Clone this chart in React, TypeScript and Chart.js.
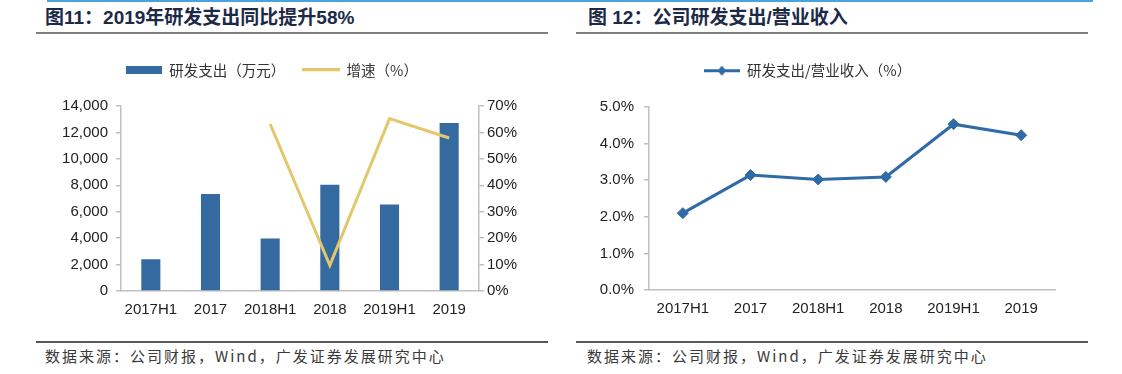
import React, { useEffect, useRef } from 'react';
import { Chart, registerables } from 'chart.js';

Chart.register(...registerables);

const categories = ['2017H1', '2017', '2018H1', '2018', '2019H1', '2019'];
const rdExpense = [2400, 7350, 3970, 8040, 6550, 12720];
const rdGrowth: (number | null)[] = [null, null, 63.2, 9.7, 65.2, 57.9];
const rdRatio = [2.1, 3.14, 3.02, 3.09, 4.53, 4.23];

const leftTitle = '图11：2019年研发支出同比提升58%';
const rightTitle = '图 12：公司研发支出/营业收入';
const sourceText = '数据来源：公司财报，Wind，广发证券发展研究中心';
const legendExpense = '研发支出（万元）';
const legendGrowth = '增速（%）';
const legendRatio = '研发支出/营业收入（%）';

const BAR_BLUE = '#346aa0';
const GOLD = '#e4c76c';
const LINE_BLUE = '#2f6ba6';
const AXIS = '#bfbfbf';
const TICK_FONT = { family: "'Liberation Sans', Arial, sans-serif", size: 15 };
const LEGEND_FONT = { family: "'Noto Sans CJK SC', sans-serif", size: 14.5 };

function makeSwatch(w: number, h: number, draw: (ctx: CanvasRenderingContext2D) => void) {
  const c = document.createElement('canvas');
  c.width = w;
  c.height = h;
  const ctx = c.getContext('2d')!;
  draw(ctx);
  return c;
}

const legendHeight = (h: number) => ({
  id: 'legendHeight',
  beforeInit(chart: any) {
    const orig = chart.legend.fit;
    chart.legend.fit = function () {
      orig.call(this);
      this.height = h;
    };
  },
});

function LeftChart() {
  const ref = useRef<HTMLCanvasElement>(null);
  useEffect(() => {
    const barSw = makeSwatch(36, 8, (ctx) => {
      ctx.fillStyle = BAR_BLUE;
      ctx.fillRect(0, 0, 36, 8);
    });
    const lineSw = makeSwatch(38, 4, (ctx) => {
      ctx.fillStyle = GOLD;
      ctx.fillRect(0, 0, 38, 3);
    });
    const chart = new Chart(ref.current!, {
      type: 'bar',
      data: {
        labels: categories,
        datasets: [
          {
            type: 'line',
            label: legendGrowth,
            data: rdGrowth,
            yAxisID: 'y1',
            borderColor: GOLD,
            backgroundColor: GOLD,
            borderWidth: 3,
            pointRadius: 0,
            order: 0,
          } as any,
          {
            type: 'bar',
            label: legendExpense,
            data: rdExpense,
            yAxisID: 'y',
            backgroundColor: BAR_BLUE,
            categoryPercentage: 0.8,
            barPercentage: 0.4,
            order: 1,
          },
        ],
      },
      options: {
        animation: false,
        responsive: false,
        maintainAspectRatio: false,
        layout: { padding: 0 },
        plugins: {
          tooltip: { enabled: false },
          legend: {
            position: 'top',
            labels: {
              font: LEGEND_FONT,
              color: '#333',
              usePointStyle: true,
              pointStyleWidth: 36,
              boxHeight: 14,
              padding: 18,
              generateLabels: () => [
                { text: legendExpense, pointStyle: barSw, fillStyle: BAR_BLUE, strokeStyle: 'transparent', lineWidth: 0, hidden: false, datasetIndex: 1, fontColor: '#333' } as any,
                { text: legendGrowth, pointStyle: lineSw, fillStyle: GOLD, strokeStyle: 'transparent', lineWidth: 0, hidden: false, datasetIndex: 0, fontColor: '#333' } as any,
              ],
            },
          },
        },
        scales: {
          x: {
            grid: { display: false, drawTicks: false },
            border: { display: true, color: AXIS, width: 1.5 },
            ticks: { font: TICK_FONT, color: '#222', padding: 10 },
            afterFit(s: any) { s.height = 49; },
          },
          y: {
            position: 'left',
            min: 0,
            max: 14000,
            ticks: {
              stepSize: 2000,
              font: TICK_FONT,
              color: '#222',
              padding: 8,
              callback: (v: any) => Number(v).toLocaleString('en-US'),
            },
            grid: { display: true, drawOnChartArea: false, drawTicks: true, tickLength: 5, color: AXIS, lineWidth: 1.5 },
            border: { display: true, color: AXIS, width: 1.5 },
            afterFit(s: any) { s.width = 101; },
          },
          y1: {
            position: 'right',
            min: 0,
            max: 70,
            ticks: {
              stepSize: 10,
              font: TICK_FONT,
              color: '#222',
              padding: 3,
              callback: (v: any) => `${v}%`,
            },
            grid: { display: true, drawOnChartArea: false, drawTicks: true, tickLength: 5, color: AXIS, lineWidth: 1.5 },
            border: { display: true, color: AXIS, width: 1.5 },
            afterFit(s: any) { s.width = 45; },
          },
        },
      } as any,
      plugins: [legendHeight(61)],
    });
    return () => chart.destroy();
  }, []);
  return <canvas ref={ref} width={504} height={295} style={{ position: 'absolute', left: 20, top: 45, width: 504, height: 295 }} />;
}

function RightChart() {
  const ref = useRef<HTMLCanvasElement>(null);
  useEffect(() => {
    const sw = makeSwatch(36, 12, (ctx) => {
      ctx.fillStyle = LINE_BLUE;
      ctx.fillRect(0, 5, 36, 3);
      ctx.beginPath();
      ctx.moveTo(18, 1.5);
      ctx.lineTo(22.5, 6.5);
      ctx.lineTo(18, 11.5);
      ctx.lineTo(13.5, 6.5);
      ctx.closePath();
      ctx.fill();
    });
    const chart = new Chart(ref.current!, {
      type: 'line',
      data: {
        labels: categories,
        datasets: [
          {
            label: legendRatio,
            data: rdRatio,
            borderColor: LINE_BLUE,
            backgroundColor: LINE_BLUE,
            borderWidth: 3,
            pointStyle: 'rectRot',
            pointRadius: 5.5,
            pointBackgroundColor: LINE_BLUE,
            pointBorderColor: LINE_BLUE,
            pointBorderWidth: 1,
          },
        ],
      },
      options: {
        animation: false,
        responsive: false,
        maintainAspectRatio: false,
        layout: { padding: { right: 10 } },
        plugins: {
          tooltip: { enabled: false },
          legend: {
            position: 'top',
            labels: {
              font: LEGEND_FONT,
              color: '#333',
              usePointStyle: true,
              pointStyleWidth: 36,
              boxHeight: 14,
              padding: 18,
              generateLabels: () => [
                { text: legendRatio, pointStyle: sw, fillStyle: LINE_BLUE, strokeStyle: 'transparent', lineWidth: 0, hidden: false, datasetIndex: 0, fontColor: '#333' } as any,
              ],
            },
          },
        },
        scales: {
          x: {
            offset: true,
            grid: { display: false, drawTicks: false },
            border: { display: true, color: AXIS, width: 1.5 },
            ticks: { font: TICK_FONT, color: '#222', padding: 10 },
            afterFit(s: any) { s.height = 50; },
          },
          y: {
            min: 0,
            max: 5,
            ticks: {
              stepSize: 1,
              font: TICK_FONT,
              color: '#222',
              padding: 10,
              callback: (v: any) => `${Number(v).toFixed(1)}%`,
            },
            grid: { display: true, drawOnChartArea: false, drawTicks: true, tickLength: 5, color: AXIS, lineWidth: 1.5 },
            border: { display: true, color: AXIS, width: 1.5 },
            afterFit(s: any) { s.width = 89; },
          },
        },
      } as any,
      plugins: [legendHeight(62)],
    });
    return () => chart.destroy();
  }, []);
  return <canvas ref={ref} width={505} height={295} style={{ position: 'absolute', left: 560, top: 45, width: 505, height: 295 }} />;
}

const titleStyle: React.CSSProperties = {
  position: 'absolute',
  top: 7,
  fontFamily: "'Liberation Sans', 'Noto Sans CJK SC', sans-serif",
  fontWeight: 'bold',
  fontSize: 19,
  lineHeight: '22px',
  color: '#1c2a48',
  whiteSpace: 'nowrap',
};

const footStyle: React.CSSProperties = {
  position: 'absolute',
  top: 347,
  fontFamily: "'Noto Sans CJK SC', 'Liberation Sans', sans-serif",
  fontSize: 15,
  lineHeight: '18px',
  letterSpacing: '2px',
  color: '#3a3a3a',
  whiteSpace: 'nowrap',
};

function rule(left: number, top: number, width: number, height: number, color: string) {
  return <div style={{ position: 'absolute', left, top, width, height, background: color }} />;
}

export default function App() {
  return (
    <div style={{ position: 'fixed', left: 0, top: 0, width: 1122, height: 374, background: '#fff', overflow: 'hidden' }}>
      {rule(47, 0, 1046, 2, '#4aa3df')}
      <div style={{ ...titleStyle, left: 45 }}>{leftTitle}</div>
      <div style={{ ...titleStyle, left: 588 }}>{rightTitle}</div>
      {rule(36, 32, 512, 2, '#808080')}
      {rule(576, 32, 512, 2, '#808080')}
      <LeftChart />
      <RightChart />
      {rule(36, 341, 512, 2, '#595959')}
      {rule(576, 341, 512, 2, '#595959')}
      <div style={{ ...footStyle, left: 45 }}>{sourceText}</div>
      <div style={{ ...footStyle, left: 587 }}>{sourceText}</div>
    </div>
  );
}
